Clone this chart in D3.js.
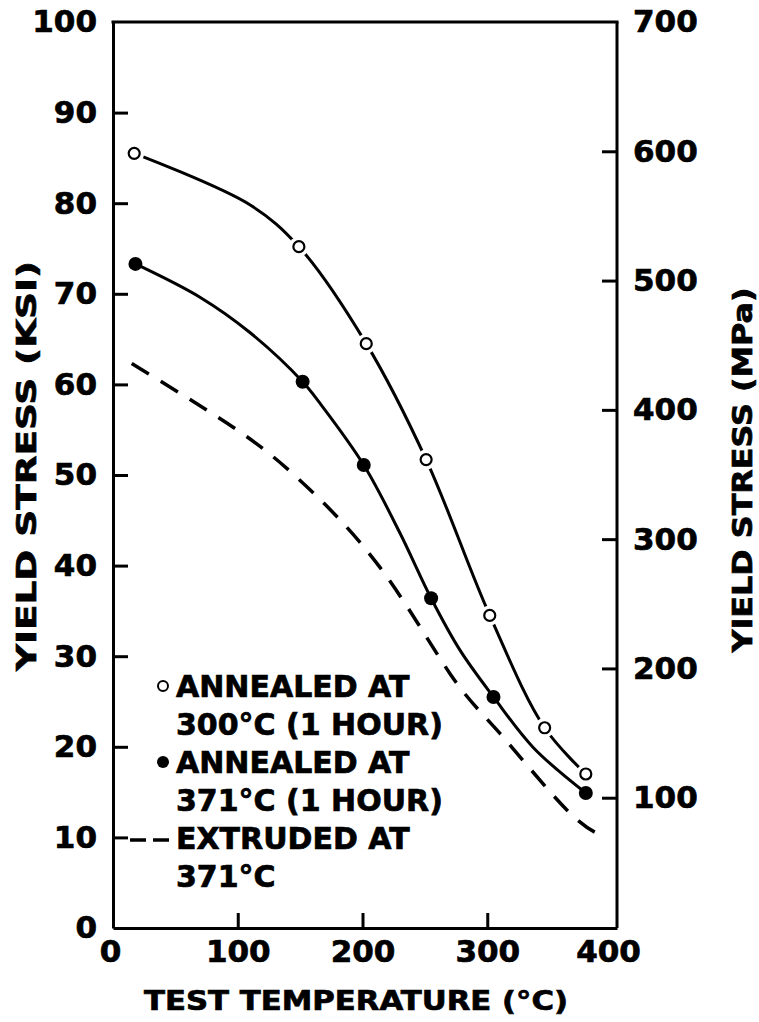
<!DOCTYPE html>
<html>
<head>
<meta charset="utf-8">
<script src="https://cdn.jsdelivr.net/npm/d3@7"></script>
<style>
html,body{margin:0;padding:0;background:#fff;}
svg{display:block;}
text{font-family:"DejaVu Sans",sans-serif;font-weight:bold;fill:#000;stroke:#000;stroke-width:0.7px;}
</style>
</head>
<body>
<svg id="chart" width="759" height="1022"></svg>
<script>
// ---- data ----
const xTicks = [0, 100, 200, 300, 400];
const yLeftTicks = [0, 10, 20, 30, 40, 50, 60, 70, 80, 90, 100];
const yRightTicks = [100, 200, 300, 400, 500, 600, 700];

// measured points (markers)
const annealed300Temp = [17, 149, 203, 251, 302, 346, 379];
const annealed300Ksi  = [85.5, 75.2, 64.5, 51.7, 34.5, 22.1, 17.0];

const annealed371Temp = [18, 152, 201, 255, 305, 379];
const annealed371Ksi  = [73.3, 60.3, 51.1, 36.4, 25.5, 14.9];

// drawn fitted curves
const annealed300CurveTemp = [17, 110, 149, 203, 251, 302, 346, 379];
const annealed300CurveKsi  = [85.5, 79.8, 75.2, 64.5, 51.7, 34.5, 22.1, 17.0];

const annealed371CurveTemp = [18, 70, 110, 152, 166, 201, 230, 255, 278, 305, 337, 379];
const annealed371CurveKsi  = [73.3, 69.6, 65.7, 60.3, 57.9, 51.1, 43.6, 36.4, 30.7, 25.5, 19.9, 14.9];

const extrudedTemp = [15, 96, 150, 214, 270, 310, 364, 396];
const extrudedKsi  = [62.3, 55.3, 49.4, 39.8, 28.1, 21.5, 13.0, 10.0];

const legendLines = ["ANNEALED AT", "300°C (1 HOUR)", "ANNEALED AT", "371°C (1 HOUR)", "EXTRUDED AT", "371°C"];

const xTitle = "TEST TEMPERATURE (°C)";
const yLeftTitle = "YIELD STRESS (KSI)";
const yRightTitle = "YIELD STRESS (MPa)";

// ---- drawing ----
const svg = d3.select("#chart");
const L = 113, R = 617, T = 22, B = 928;

const x = d3.scaleLinear().domain([0, 404]).range([L, R]);
const yL = d3.scaleLinear().domain([0, 100]).range([B, T]);
const yR = d3.scaleLinear().domain([0, 700]).range([927, T]);

const sw = 3;

svg.append("line").attr("x1", L).attr("x2", R).attr("y1", T).attr("y2", T)
  .attr("stroke", "#000").attr("stroke-width", sw).attr("stroke-linecap", "square");

function styleAxis(g, hideVals, fontSize) {
  g.select(".domain").attr("stroke", "#000").attr("stroke-width", sw);
  g.selectAll(".tick line").attr("stroke", "#000").attr("stroke-width", sw);
  g.selectAll(".tick").filter(d => hideVals.includes(d)).select("line").remove();
  g.selectAll(".tick text").style("font-size", fontSize + "px")
    .style("font-family", "'DejaVu Sans', sans-serif").style("font-weight", "bold").attr("fill", "#000");
  g.attr("font-family", null).attr("font-size", null);
}

const gL = svg.append("g").attr("transform", `translate(${L},0)`)
  .call(d3.axisLeft(yL).tickValues(yLeftTicks).tickSize(-15).tickSizeOuter(0).tickPadding(16).tickFormat(d3.format("d")));
styleAxis(gL, [0, 100], 31);

const gR = svg.append("g").attr("transform", `translate(${R},0)`)
  .call(d3.axisRight(yR).tickValues(yRightTicks).tickSize(-15).tickSizeOuter(0).tickPadding(16).tickFormat(d3.format("d")));
styleAxis(gR, [700], 31);
gR.select(".domain").attr("d", `M0,${T}V${B}`);

const gB = svg.append("g").attr("transform", `translate(0,${B})`)
  .call(d3.axisBottom(x).tickValues(xTicks).tickSize(-15).tickSizeOuter(0).tickPadding(12).tickFormat(d3.format("d")));
styleAxis(gB, [0, 400], 31);
gB.selectAll(".tick").filter(d => d === 0).select("text").attr("x", -3);
gB.selectAll(".tick").filter(d => d === 400).select("text").attr("x", -4);

// curves
const mk = (tx, ty) => tx.map((t, i) => [t, ty[i]]);
const d300 = mk(annealed300Temp, annealed300Ksi);
const d371 = mk(annealed371Temp, annealed371Ksi);
const c300 = mk(annealed300CurveTemp, annealed300CurveKsi);
const c371 = mk(annealed371CurveTemp, annealed371CurveKsi);
const dExt = mk(extrudedTemp, extrudedKsi);

const line = d3.line().x(d => x(d[0])).y(d => yL(d[1])).curve(d3.curveCatmullRom.alpha(0.5));
const lineN = d3.line().x(d => x(d[0])).y(d => yL(d[1])).curve(d3.curveNatural);

svg.append("path").attr("d", lineN(dExt)).attr("fill", "none").attr("stroke", "#000")
  .attr("stroke-width", 3.5).attr("stroke-dasharray", "20,14");

svg.append("path").attr("d", line(c371)).attr("fill", "none").attr("stroke", "#000").attr("stroke-width", 3);
svg.append("path").attr("d", line(c300)).attr("fill", "none").attr("stroke", "#000").attr("stroke-width", 3);

svg.selectAll("circle.gap").data(d300).enter().append("circle").attr("class", "gap")
  .attr("cx", d => x(d[0])).attr("cy", d => yL(d[1])).attr("r", 10).attr("fill", "#fff");
svg.selectAll("circle.open").data(d300).enter().append("circle").attr("class", "open")
  .attr("cx", d => x(d[0])).attr("cy", d => yL(d[1])).attr("r", 5.5)
  .attr("fill", "#fff").attr("stroke", "#000").attr("stroke-width", 2.2);
svg.selectAll("circle.filled").data(d371).enter().append("circle").attr("class", "filled")
  .attr("cx", d => x(d[0])).attr("cy", d => yL(d[1])).attr("r", 7).attr("fill", "#000");

// legend
const lgX = 176, lgY0 = 697, lgDy = 38;
const lg = svg.append("g");
lg.selectAll("text").data(legendLines).enter().append("text")
  .attr("x", lgX).attr("y", (d, i) => lgY0 + i * lgDy)
  .style("font-size", "30px").text(d => d);
lg.append("circle").attr("cx", 163).attr("cy", lgY0 - 11).attr("r", 5)
  .attr("fill", "#fff").attr("stroke", "#000").attr("stroke-width", 2);
lg.append("circle").attr("cx", 163).attr("cy", lgY0 + 2 * lgDy - 11).attr("r", 6).attr("fill", "#000");
lg.append("line").attr("x1", 130).attr("x2", 171).attr("y1", lgY0 + 4 * lgDy - 9).attr("y2", lgY0 + 4 * lgDy - 9)
  .attr("stroke", "#000").attr("stroke-width", 3.5).attr("stroke-dasharray", "16,7");

// titles
svg.append("text").attr("x", 356).attr("y", 1010).attr("text-anchor", "middle")
  .style("font-size", "27px").attr("textLength", 424).attr("lengthAdjust", "spacingAndGlyphs").text(xTitle);
svg.append("text").attr("transform", "translate(36,466) rotate(-90)").attr("text-anchor", "middle")
  .style("font-size", "27px").attr("textLength", 410).attr("lengthAdjust", "spacingAndGlyphs").text(yLeftTitle);
svg.append("text").attr("transform", "translate(752,470) rotate(-90)").attr("text-anchor", "middle")
  .style("font-size", "27px").attr("textLength", 365).attr("lengthAdjust", "spacingAndGlyphs").text(yRightTitle);
</script>
</body>
</html>
